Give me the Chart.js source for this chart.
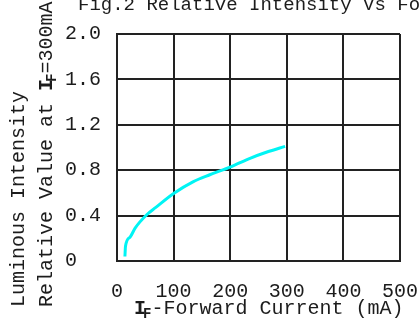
<!DOCTYPE html>
<html>
<head>
<meta charset="utf-8">
<script src="https://cdn.jsdelivr.net/npm/chart.js@4"></script>
<style>
  body { margin: 0; background: #fff; }
  canvas { display: block; }
</style>
</head>
<body>
<canvas id="myChart" width="419" height="321"></canvas>
<script>
// forward current (mA) vs relative luminous intensity (1.0 at 300mA)
var currentMa = [14, 15, 23, 32, 53, 68, 100, 135, 164, 201, 235, 265, 297];
var relIntensity = [0.04, 0.13, 0.21, 0.29, 0.41, 0.47, 0.595, 0.70, 0.76, 0.83, 0.905, 0.96, 1.01];
var xTickLabels = ['0', '100', '200', '300', '400', '500'];
var yTickLabels = ['0', '0.4', '0.8', '1.2', '1.6', '2.0'];

var FONT = '"Liberation Mono", "DejaVu Sans Mono", monospace';
var INK = '#1c1c1c';

// draws a run of text where "I" + subscript "F" stands for I_F
function drawIF(c, x, y, rest) {
    c.font = 'bold 20px ' + FONT;
    c.fillText('I', x, y);
    x += c.measureText('I').width - 3;
    c.font = 'bold 14px ' + FONT;
    c.fillText('F', x, y + 4);
    x += c.measureText('F').width;
    c.font = '20px ' + FONT;
    c.fillText(rest, x, y);
}

var titles = {
    id: 'titles',
    afterDraw: function(chart) {
        var c = chart.ctx;
        c.save();
        c.fillStyle = INK;
        c.textBaseline = 'alphabetic';
        c.textAlign = 'left';

        c.font = '19px ' + FONT;
        c.fillText('Fig.2 Relative Intensity Vs Forward Current', 78, 10);

        // x axis title
        drawIF(c, 134, 314, '-Forward Current (mA)');

        // y axis titles, rotated
        c.save();
        c.translate(24, 307);
        c.rotate(-Math.PI / 2);
        c.font = '20px ' + FONT;
        c.fillText('Luminous Intensity', 0, 0);
        c.restore();

        c.save();
        c.translate(52, 307);
        c.rotate(-Math.PI / 2);
        c.font = '20px ' + FONT;
        var lead = 'Relative Value at ';
        c.fillText(lead, 0, 0);
        drawIF(c, c.measureText(lead).width, 0, '=300mA');
        c.restore();

        c.restore();
    }
};

var ctx = document.getElementById('myChart').getContext('2d');
var points = currentMa.map(function(x, i) { return { x: x, y: relIntensity[i] }; });

var myChart = new Chart(ctx, {
    type: 'line',
    data: {
        datasets: [{
            data: points,
            borderColor: '#00f4f4',
            borderWidth: 3,
            pointRadius: 0,
            fill: false,
            cubicInterpolationMode: 'monotone'
        }]
    },
    options: {
        responsive: false,
        animation: false,
        layout: { padding: { left: 65, top: 34, right: 19, bottom: 0 } },
        plugins: {
            legend: { display: false },
            tooltip: { enabled: false }
        },
        scales: {
            x: {
                type: 'linear',
                min: 0,
                max: 500,
                afterFit: function(scale) {
                    scale.height = 60;
                    scale.paddingLeft = 0;
                    scale.paddingRight = 0;
                },
                grid: { color: '#222', lineWidth: 2, drawTicks: false },
                border: { color: '#222', width: 2 },
                ticks: {
                    stepSize: 100,
                    padding: 19,
                    color: INK,
                    font: { family: FONT, size: 20 },
                    maxRotation: 0,
                    callback: function(v, i) { return xTickLabels[i]; }
                }
            },
            y: {
                min: 0,
                max: 2,
                afterFit: function(scale) {
                    scale.width = 52;
                    scale.paddingTop = 0;
                    scale.paddingBottom = 0;
                },
                grid: { color: '#222', lineWidth: 2, drawTicks: false },
                border: { color: '#222', width: 2 },
                ticks: {
                    stepSize: 0.4,
                    crossAlign: 'far',
                    color: INK,
                    font: { family: FONT, size: 20 },
                    callback: function(v, i) { return yTickLabels[i]; }
                }
            }
        }
    },
    plugins: [titles]
});
</script>
</body>
</html>
